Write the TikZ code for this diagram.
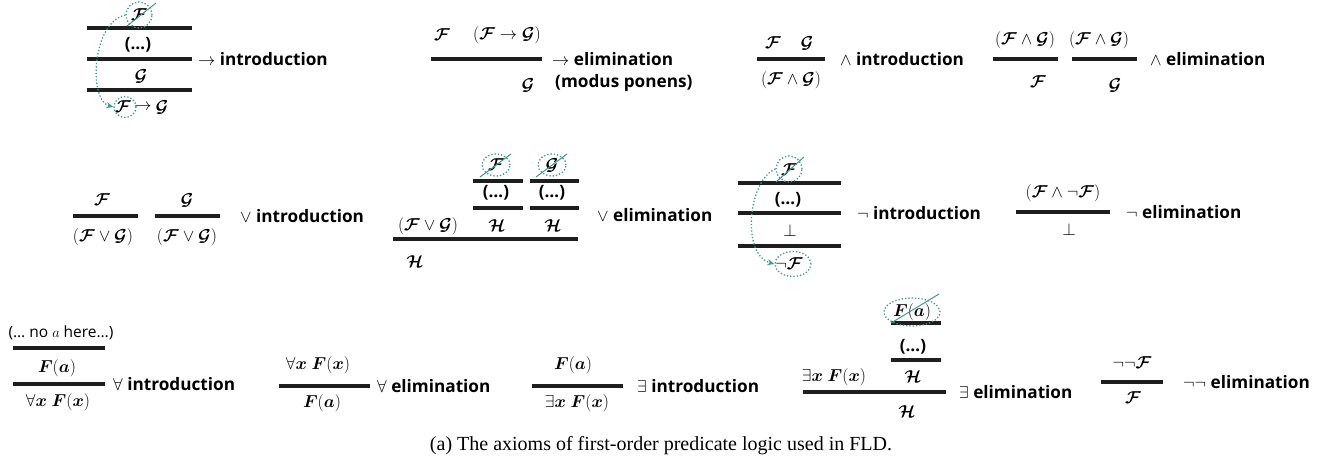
\documentclass[tikz,border=0pt]{standalone}
\usepackage{amsmath,bm}
\usepackage{fontspec}
\setsansfont{Open Sans}
\newfontfamily\capfont{Liberation Serif}
\usetikzlibrary{arrows.meta,shapes.geometric}
\definecolor{tealc}{RGB}{62,155,140}
\definecolor{rulec}{RGB}{30,30,30}
\newcommand{\cF}{\bm{\mathcal{F}}}
\newcommand{\cG}{\bm{\mathcal{G}}}
\newcommand{\cH}{\bm{\mathcal{H}}}
\newcommand{\Fa}{\bm{F}(\bm{a})}
\newcommand{\Fx}{\bm{F}(\bm{x})}
\tikzset{
 rl/.style={draw=rulec, line width=3.2pt},
 mth/.style={inner sep=0pt, font=\fontsize{17.5}{20}\selectfont},
 lab/.style={inner sep=0pt, anchor=base west, font=\sffamily\bfseries\fontsize{17.2}{20}\selectfont},
 dts/.style={inner sep=0pt, font=\sffamily\bfseries\fontsize{17}{20}\selectfont},
 disc/.style={draw=tealc, dotted, line width=1.3pt, ellipse, inner sep=0pt},
 strike/.style={draw=tealc, line width=1pt},
 darr/.style={draw=tealc, dotted, line width=1.3pt, -{Stealth[length=7pt,width=6pt]}},
}
\begin{document}
\begin{tikzpicture}[x=1pt,y=-1pt]
\useasboundingbox (0,0) rectangle (1322,463);
% ---------- -> introduction
\draw[rl] (87,28) -- (192,28);
\draw[rl] (87,59) -- (192,59);
\draw[rl] (87,90) -- (192,90);
\node[mth] (aF) at (139,15) {$\cF$};
\node[dts] (ad) at (138,45) {(…)};
\node[mth] (aG) at (141,76) {$\cG$};
\node[mth] (abF) at (123,107) {$\cF$};
\node[mth] (aar) at (143,107) {$\to$};
\node[mth] (abG) at (162,107) {$\cG$};
\node[disc, minimum width=26pt, minimum height=26pt] (ac1) at (139,15) {};
\node[disc, minimum width=22pt, minimum height=21pt] (ac2) at (125,107) {};
\draw[strike] (127,26) -- (156,3);
\draw[darr] (ac1.west) .. controls (92,22) and (88,100) .. (ac2.west);
\node[lab] (al) at (198,65) {$\to$ introduction};
% ---------- -> elimination
\draw[rl] (431,59) -- (542,59);
\node[mth] (bF) at (442,35) {$\cF$};
\node[mth] (bFG) at (507,35) {$(\cF\to\cG)$};
\node[mth] (bG) at (528,85) {$\cG$};
\node[lab] (bl) at (552,65) {$\to$ elimination};
\node[lab] (bl2) at (555,87) {(modus ponens)};
% ---------- and introduction
\draw[rl] (757,59) -- (825,59);
\node[mth] (cF) at (773,43) {$\cF$};
\node[mth] (cG) at (807,43) {$\cG$};
\node[mth] (cFG) at (791,80) {$(\cF\wedge\cG)$};
\node[lab] (cl) at (840,65) {$\wedge$ introduction};
% ---------- and elimination
\draw[rl] (993,59) -- (1058,59);
\draw[rl] (1072,59) -- (1137,59);
\node[mth] (dFG1) at (1025,40) {$(\cF\wedge\cG)$};
\node[mth] (dF) at (1038,82) {$\cF$};
\node[mth] (dFG2) at (1099,40) {$(\cF\wedge\cG)$};
\node[mth] (dG) at (1115,85) {$\cG$};
\node[lab] (dl) at (1150,65) {$\wedge$ elimination};
% ---------- or introduction
\draw[rl] (73,216) -- (138,216);
\draw[rl] (155,216) -- (220,216);
\node[mth] (eF) at (102,200) {$\cF$};
\node[mth] (eFG1) at (103,237) {$(\cF\vee\cG)$};
\node[mth] (eG) at (187,200) {$\cG$};
\node[mth] (eFG2) at (187,237) {$(\cF\vee\cG)$};
\node[lab] (el) at (240,222) {$\vee$ introduction};
% ---------- or elimination
\draw[rl] (473,181) -- (523,181);
\draw[rl] (530,181) -- (579,181);
\draw[rl] (473,208) -- (523,208);
\draw[rl] (530,208) -- (579,208);
\draw[rl] (393,239) -- (578,239);
\node[mth] (fF) at (496,165) {$\cF$};
\node[mth] (fG) at (552,165) {$\cG$};
\node[disc, minimum width=28pt, minimum height=22pt] (fc1) at (496,165) {};
\node[disc, minimum width=28pt, minimum height=22pt] (fc2) at (552,165) {};
\draw[strike] (480,177) -- (511,154);
\draw[strike] (536,177) -- (567,154);
\node[dts] (fd1) at (496,193) {(…)};
\node[dts] (fd2) at (552,193) {(…)};
\node[mth] (fFG) at (428,226) {$(\cF\vee\cG)$};
\node[mth] (fH1) at (497,226) {$\cH$};
\node[mth] (fH2) at (553,226) {$\cH$};
\node[mth] (fH) at (415,262) {$\cH$};
\node[lab] (fl) at (597,221) {$\vee$ elimination};
% ---------- not introduction
\draw[rl] (738,183) -- (841,183);
\draw[rl] (738,213) -- (841,213);
\draw[rl] (738,246) -- (841,246);
\node[mth] (gF) at (789,170) {$\cF$};
\node[disc, minimum width=26pt, minimum height=26pt] (gc1) at (789,169) {};
\draw[strike] (776,182) -- (804,157);
\node[dts] (gd) at (788,200) {(…)};
\node[mth] (gbot) at (790,230) {$\bot$};
\node[mth] (gnF) at (789,264) {$\neg\cF$};
\node[disc, minimum width=36pt, minimum height=25pt] (gc2) at (793,264) {};
\draw[darr] (gc1.west) .. controls (748,180) and (741,255) .. (gc2.west);
\node[lab] (gl) at (857,219) {$\neg$ introduction};
% ---------- not elimination
\draw[rl] (1016,212) -- (1110,212);
\node[mth] (hF) at (1063,193) {$(\cF\wedge\neg\cF)$};
\node[mth] (hbot) at (1069,229) {$\bot$};
\node[lab] (hl) at (1126,218) {$\neg$ elimination};
% ---------- forall introduction
\node[inner sep=0pt, font=\sffamily\fontsize{15.5}{18}\selectfont] (ina) at (61,333) {(… no $a$ here…)};
\draw[rl] (13,348) -- (105,348);
\draw[rl] (13,384) -- (105,384);
\node[mth] (iFa) at (57,368) {$\Fa$};
\node[mth] (iFx) at (58,402) {$\forall\bm{x}\;\Fx$};
\node[lab] (il) at (113,390) {$\forall$ introduction};
% ---------- forall elimination
\draw[rl] (279,386) -- (370,386);
\node[mth] (jFx) at (318,365) {$\forall\bm{x}\;\Fx$};
\node[mth] (jFa) at (322,403) {$\Fa$};
\node[lab] (jl) at (377,392) {$\forall$ elimination};
% ---------- exists introduction
\draw[rl] (532,386) -- (623,386);
\node[mth] (kFa) at (573,365) {$\Fa$};
\node[mth] (kFx) at (577,403) {$\exists\bm{x}\;\Fx$};
\node[lab] (kl) at (637,392) {$\exists$ introduction};
% ---------- exists elimination
\draw[rl] (891,323) -- (941,323);
\draw[rl] (891,360) -- (941,360);
\draw[rl] (803,392) -- (946,392);
\node[mth] (lFa) at (912,312) {$\Fa$};
\node[disc, minimum width=56pt, minimum height=28pt] (lc) at (912,312) {};
\draw[strike] (891,323) -- (939,294);
\node[dts] (ld) at (913,347) {(…)};
\node[mth] (lFx) at (834,377) {$\exists\bm{x}\;\Fx$};
\node[mth] (lH1) at (913,377) {$\cH$};
\node[mth] (lH) at (907,412) {$\cH$};
\node[lab] (ll) at (959,398) {$\exists$ elimination};
% ---------- double negation elimination
\draw[rl] (1101,382) -- (1163,382);
\node[mth] (mF1) at (1132,363) {$\neg\neg\cF$};
\node[mth] (mF) at (1133,398) {$\cF$};
\node[lab] (ml) at (1183,388) {$\neg\neg$ elimination};
% ---------- caption
\node[inner sep=0pt, font=\capfont\fontsize{20}{23}\selectfont] (cap) at (661,446) {(a) The axioms of first-order predicate logic used in FLD.};
\end{tikzpicture}
\end{document}
